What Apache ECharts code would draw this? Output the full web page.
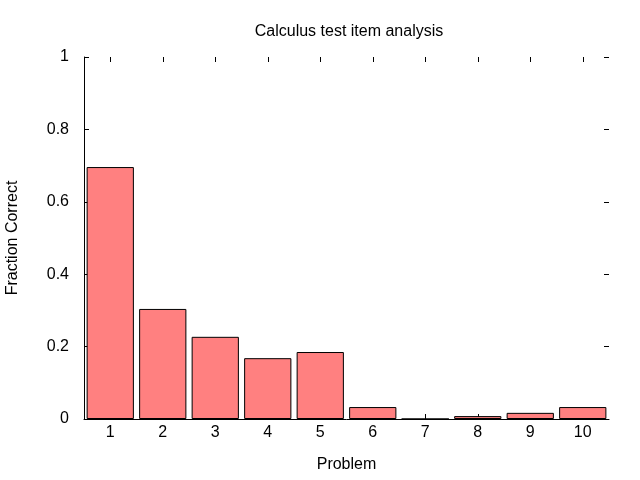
<!DOCTYPE html>
<html><head><meta charset="utf-8">
<script src="https://cdn.jsdelivr.net/npm/echarts@6/dist/echarts.min.js"></script>
<style>html,body{margin:0;padding:0;background:#fff}#c{width:640px;height:480px}</style>
</head><body><div id="c"></div>
<script>
const problems = ['1','2','3','4','5','6','7','8','9','10'];
const fractionCorrect = [0.696, 0.304, 0.227, 0.168, 0.185, 0.033, 0, 0.008, 0.017, 0.033];
const yTicks = [0, 0.2, 0.4, 0.6, 0.8, 1];

const chart = echarts.init(document.getElementById('c'), null, {renderer: 'canvas'});
const font = 'Liberation Sans, Arial, sans-serif';
chart.setOption({
  animation: false,
  backgroundColor: '#fff',
  title: {text: 'Calculus test item analysis', left: 344, top: 19, textAlign: 'center',
    textStyle: {fontFamily: font, fontSize: 16, fontWeight: 'normal', color: '#000'}},
  grid: {left: 84, right: 31, top: 57, bottom: 61, containLabel: false, outerBoundsMode: 'none'},
  xAxis: [{
    type: 'category', data: problems, position: 'bottom',
    name: 'Problem', nameLocation: 'middle', nameGap: 38,
    nameTextStyle: {fontFamily: font, fontSize: 16, color: '#000'},
    axisLine: {show: true, onZero: false, lineStyle: {color: '#000', width: 1}},
    axisTick: {show: true, inside: true, alignWithLabel: true, length: 5, lineStyle: {color: '#000'}},
    axisLabel: {fontFamily: font, fontSize: 16, color: '#000', margin: 6},
    splitLine: {show: false}
  }, {
    type: 'category', data: problems, position: 'top', gridIndex: 0,
    axisLine: {show: false, onZero: false},
    axisTick: {show: true, inside: true, alignWithLabel: true, interval: 0, length: 5, lineStyle: {color: '#000'}},
    axisLabel: {show: false},
    splitLine: {show: false}
  }],
  yAxis: [{
    type: 'value', min: 0, max: 1, interval: 0.2, position: 'left',
    name: 'Fraction Correct', nameLocation: 'middle', nameGap: 63,
    nameTextStyle: {fontFamily: font, fontSize: 16, color: '#000'},
    axisLine: {show: true, onZero: false, lineStyle: {color: '#000', width: 1}},
    axisTick: {show: true, inside: true, length: 5, lineStyle: {color: '#000'}},
    axisLabel: {fontFamily: font, fontSize: 16, color: '#000', margin: 15,
      formatter: v => yTicks.includes(+v.toFixed(1)) ? String(+v.toFixed(1)) : ''},
    splitLine: {show: false}
  }, {
    type: 'value', min: 0, max: 1, interval: 0.2, position: 'right',
    axisLine: {show: false, onZero: false},
    axisTick: {show: true, inside: true, length: 5, lineStyle: {color: '#000'}},
    axisLabel: {show: false},
    splitLine: {show: false}
  }],
  series: [{
    type: 'bar', data: fractionCorrect, barCategoryGap: '10%',
    itemStyle: {color: '#ff8080', borderColor: '#000', borderWidth: 1}
  }]
});
</script></body></html>
